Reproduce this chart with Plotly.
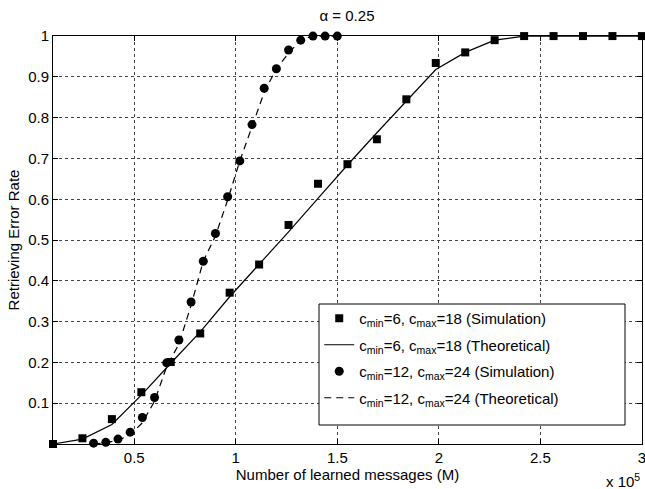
import plotly.graph_objects as go

# x values in units of 10^5 learned messages
x_c6 = [0.10, 0.245, 0.39, 0.535, 0.68, 0.825, 0.97, 1.115, 1.26, 1.405, 1.55,
        1.695, 1.84, 1.985, 2.13, 2.275, 2.42, 2.565, 2.71, 2.855, 3.00]
sim_c6 = [0.0, 0.014, 0.061, 0.127, 0.201, 0.271, 0.371, 0.44, 0.537, 0.638, 0.686,
          0.747, 0.845, 0.934, 0.96, 0.99, 1.0, 1.0, 1.0, 1.0, 1.0]
theo_c6 = [0.0, 0.012, 0.048, 0.12, 0.198, 0.275, 0.361, 0.44, 0.52, 0.602, 0.684,
           0.763, 0.84, 0.918, 0.96, 0.99, 1.0, 1.0, 1.0, 1.0, 1.0]

x_c12 = [0.30, 0.36, 0.42, 0.48, 0.54, 0.60, 0.66, 0.72, 0.78, 0.84, 0.90,
         0.96, 1.02, 1.08, 1.14, 1.20, 1.26, 1.32, 1.38, 1.44, 1.50]
sim_c12 = [0.002, 0.004, 0.012, 0.029, 0.065, 0.114, 0.199, 0.255, 0.348, 0.448, 0.516,
           0.606, 0.694, 0.783, 0.872, 0.92, 0.966, 0.99, 1.0, 1.0, 1.0]
theo_c12 = [0.0, 0.003, 0.009, 0.022, 0.052, 0.105, 0.19, 0.245, 0.34, 0.448, 0.51,
            0.598, 0.694, 0.78, 0.862, 0.92, 0.958, 0.99, 1.0, 1.0, 1.0]

x_ticks = [0.5, 1, 1.5, 2, 2.5, 3]
x_ticktext = ["0.5", "1", "1.5", "2", "2.5", "3"]
y_ticks = [0.1, 0.2, 0.3, 0.4, 0.5, 0.6, 0.7, 0.8, 0.9, 1.0]
y_ticktext = ["0.1", "0.2", "0.3", "0.4", "0.5", "0.6", "0.7", "0.8", "0.9", "1"]

FONT = "Liberation Sans, Arial, Helvetica, sans-serif"
FS = 15

fig = go.Figure()
fig.add_trace(go.Scatter(
    x=x_c6, y=sim_c6, mode="markers", legendgroup="a",
    marker=dict(symbol="square", size=8, color="black"),
    name="c<sub>min</sub>=6, c<sub>max</sub>=18 (Simulation)", cliponaxis=False))
fig.add_trace(go.Scatter(
    x=x_c6, y=theo_c6, mode="lines", legendgroup="b",
    line=dict(color="black", width=1.2),
    name="c<sub>min</sub>=6, c<sub>max</sub>=18 (Theoretical)"))
fig.add_trace(go.Scatter(
    x=x_c12, y=sim_c12, mode="markers", legendgroup="c",
    marker=dict(symbol="circle", size=9, color="black"),
    name="c<sub>min</sub>=12, c<sub>max</sub>=24 (Simulation)", cliponaxis=False))
fig.add_trace(go.Scatter(
    x=x_c12, y=theo_c12, mode="lines", legendgroup="d",
    line=dict(color="black", width=1.2, dash="7px,5px"),
    name="c<sub>min</sub>=12, c<sub>max</sub>=24 (Theoretical)"))

axis_common = dict(
    showline=True, linecolor="black", linewidth=1, mirror="ticks",
    ticks="inside", ticklen=5, tickcolor="black",
    showgrid=True, gridcolor="#444", gridwidth=1, griddash="dot",
    zeroline=False, tickfont=dict(size=FS, color="black", family=FONT),
    ticklabeloverflow="allow", automargin=False,
)

fig.update_layout(
    width=645, height=489,
    margin=dict(l=53, r=3, t=36, b=45, autoexpand=False),
    paper_bgcolor="white", plot_bgcolor="white",
    font=dict(family=FONT, size=FS, color="black"),
    title=dict(text="α = 0.25", x=347 / 645, xanchor="center",
               y=1 - 16 / 489, yanchor="middle", font=dict(size=FS)),
    xaxis=dict(range=[0.1, 3.0005], tickvals=x_ticks, ticktext=x_ticktext,
               title=dict(text="Number of learned messages (M)", standoff=2,
                          font=dict(size=FS)),
               **axis_common),
    yaxis=dict(range=[0, 1.0002], tickvals=y_ticks, ticktext=y_ticktext,
               title=dict(text="Retrieving Error Rate", standoff=4,
                          font=dict(size=FS)),
               **axis_common),
    legend=dict(x=0.452, y=0.348, xanchor="left", yanchor="top",
                bgcolor="rgba(0,0,0,0)", borderwidth=0,
                font=dict(size=FS), tracegroupgap=4),
    showlegend=True,
    shapes=[dict(type="rect", xref="paper", yref="paper",
                 x0=(319 - 53) / 589, x1=(625 - 53) / 589,
                 y0=(444 - 425) / 408, y1=(444 - 304) / 408,
                 line=dict(color="black", width=1), fillcolor="white",
                 layer="above")],
)

fig.add_annotation(text="x 10<sup>5</sup>", xref="paper", yref="paper",
                   x=1.0, y=-37 / 408, xanchor="right", yanchor="middle",
                   showarrow=False, font=dict(size=FS))

fig.write_html("out.html")
